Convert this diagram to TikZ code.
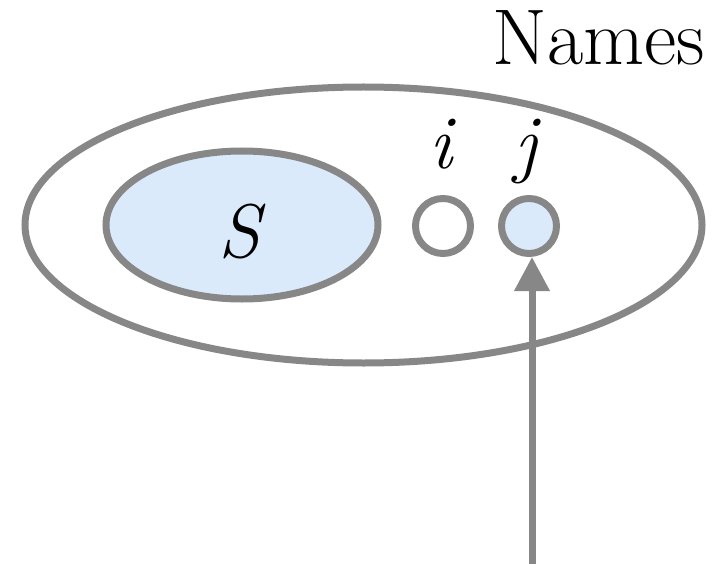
\documentclass[tikz,border=0pt]{standalone}
\usetikzlibrary{arrows.meta,shapes.geometric}
\definecolor{edgegray}{HTML}{878787}
\definecolor{setblue}{HTML}{DBEAFB}
\begin{document}
\begin{tikzpicture}[x=1pt,y=-1pt,
  setline/.style={draw=edgegray,line width=7pt},
  bigtext/.style={font=\fontsize{76}{80}\selectfont,inner sep=0pt,anchor=base},
  elem/.style={setline,circle,minimum size=55pt,inner sep=0pt}]
\useasboundingbox (0,0) rectangle (722,564);
\node[setline,ellipse,minimum width=677pt,minimum height=276pt,inner sep=0pt] (names) at (363.5,225) {};
\node[setline,ellipse,fill=setblue,minimum width=272pt,minimum height=148pt,inner sep=0pt] (S) at (242,225) {};
\node[bigtext] (Slabel) at (242,257) {\textit{S}};
\node[elem] (i) at (443,226) {};
\node[elem,fill=setblue] (j) at (529,226) {};
\node[bigtext] (ilabel) at (443,168) {\textit{i}};
\node[bigtext] (jlabel) at (528,168) {\textit{j}};
\node[bigtext,font=\fontsize{79}{82}\selectfont] (title) at (599,65) {Names};
\coordinate (start) at (532,570);
\draw[draw=edgegray,line width=7pt,-{Triangle[length=34pt,width=34pt]},edgegray] (start) -- (start |- j.south);
\end{tikzpicture}
\end{document}
